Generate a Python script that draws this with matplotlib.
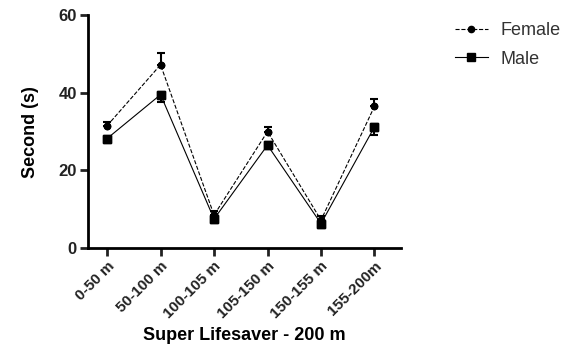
import matplotlib
matplotlib.use("Agg")
import matplotlib.pyplot as plt
import numpy as np

plt.rcParams['font.family'] = ['Liberation Sans', 'DejaVu Sans']

categories = ["0-50 m", "50-100 m", "100-105 m", "105-150 m", "150-155 m", "155-200m"]
female = [31.5, 47.2, 8.5, 30.0, 7.2, 36.5]
female_err = [1.0, 3.0, 1.0, 1.3, 1.0, 2.0]
male = [28.2, 39.5, 7.5, 26.5, 6.3, 31.2]
male_err = [1.0, 2.0, 1.0, 1.0, 1.0, 2.0]

fig = plt.figure(figsize=(5.74, 3.58), dpi=100)
ax = fig.add_axes([0.153, 0.307, 0.546, 0.651])
x = np.arange(len(categories))

ax.errorbar(x, female, yerr=[np.zeros(len(female)), female_err], fmt='o', color='black',
            markersize=4.5, capsize=3, elinewidth=1.5, capthick=1.5, zorder=3)
ax.plot(x, female, '--', color='black', lw=0.8, marker='o', markersize=4.5, label='Female', zorder=3)
ax.errorbar(x, male, yerr=[male_err, np.zeros(len(male))], fmt='s', color='black',
            markersize=6, capsize=3, elinewidth=1.5, capthick=1.5, zorder=3)
ax.plot(x, male, '-', color='black', lw=0.8, marker='s', markersize=6, label='Male', zorder=3)

ax.set_xlim(-0.36, 5.5)
ax.set_ylim(0, 60)
ax.set_yticks([0, 20, 40, 60])
ax.set_xticks(x)
ax.set_xticklabels(categories, rotation=45, ha='right', rotation_mode='anchor',
                   fontsize=11, fontweight='bold')
for lab in ax.get_yticklabels():
    lab.set_fontweight('bold')
    lab.set_fontsize(12)
ax.spines['top'].set_visible(False)
ax.spines['right'].set_visible(False)
ax.spines['left'].set_linewidth(2)
ax.spines['bottom'].set_linewidth(2)
ax.tick_params(axis='both', width=2, length=6, direction='out', colors='#222222', pad=2)
ax.set_ylabel('Second (s)', fontsize=13, fontweight='bold', labelpad=14)
ax.set_xlabel('Super Lifesaver - 200 m', fontsize=13, fontweight='bold', labelpad=4)

leg = ax.legend(loc='upper left', bbox_to_anchor=(1.12, 1.04), frameon=False, fontsize=13,
                handlelength=1.8, handletextpad=0.7, labelspacing=0.65)
for t in leg.get_texts():
    t.set_color('#333333')

fig.savefig('out.png', dpi=100)
